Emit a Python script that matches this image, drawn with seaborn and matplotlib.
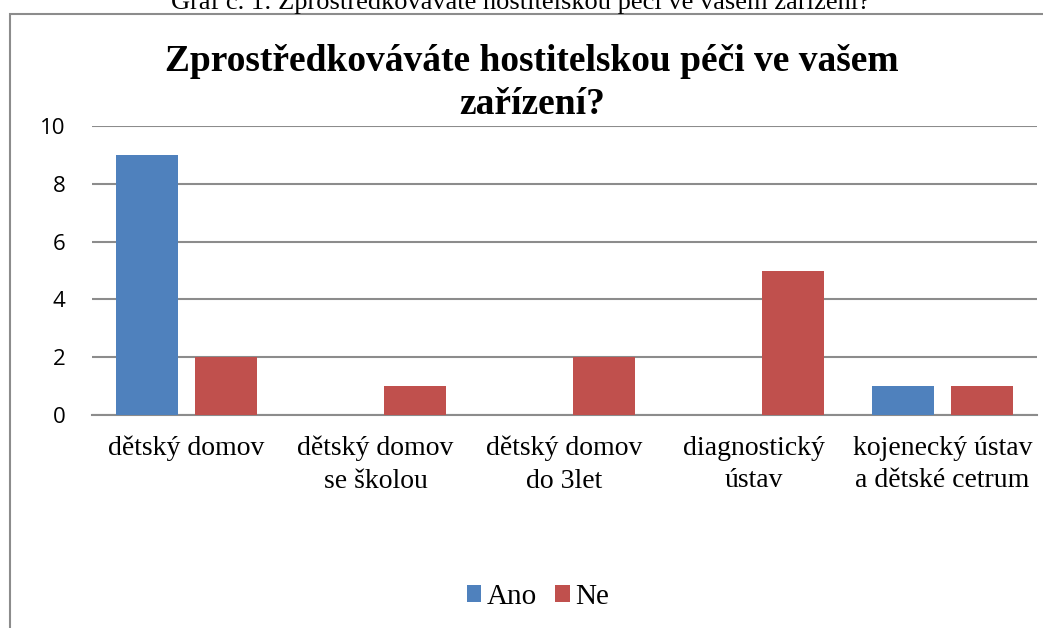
import matplotlib
matplotlib.use("Agg")
import matplotlib.pyplot as plt
import seaborn as sns
import pandas as pd
from matplotlib.patches import Rectangle, Patch

categories = ["dětský domov", "dětský domov\nse školou", "dětský domov\ndo 3let",
              "diagnostický\nústav", "kojenecký ústav\na dětské cetrum"]
ano = [9, 0, 0, 0, 1]
ne = [2, 1, 2, 5, 1]
series = ["Ano", "Ne"]
colors = ["#4F81BD", "#C0504D"]
yticks = [0, 2, 4, 6, 8, 10]

df = pd.DataFrame({
    "kategorie": categories * 2,
    "hodnota": ano + ne,
    "serie": ["Ano"] * len(categories) + ["Ne"] * len(categories),
})

sns.set_theme(style="white")
plt.rcParams["font.family"] = ["Liberation Serif", "DejaVu Serif"]
plt.rcParams["text.color"] = "black"
plt.rcParams["xtick.color"] = "black"
plt.rcParams["ytick.color"] = "black"
plt.rcParams["xtick.labelcolor"] = "black"
plt.rcParams["ytick.labelcolor"] = "black"

fig = plt.figure(figsize=(10.43, 6.28), dpi=100)
ax = fig.add_axes([92 / 1043, 1 - 415 / 628, 945 / 1043, (415 - 126) / 628])

sns.barplot(data=df, x="kategorie", y="hodnota", hue="serie", order=categories,
            hue_order=series, palette=colors, width=0.83, gap=0.21,
            saturation=1, legend=False, ax=ax, zorder=3, linewidth=0)

ax.set_ylim(0, 10)
ax.set_xlim(-0.5, 4.5)
ax.set_yticks(yticks)
ax.yaxis.grid(True, color="#8c8c8c", linewidth=1.5, zorder=0)
ax.set_axisbelow(True)
for s in ["top", "right", "left"]:
    ax.spines[s].set_visible(False)
ax.spines["bottom"].set_color("#8c8c8c")
ax.spines["bottom"].set_linewidth(1.5)
ax.set_xlabel("")
ax.set_ylabel("")
ax.tick_params(axis="y", length=0, pad=19, labelsize=16, labelcolor="black")
for lbl in ax.get_yticklabels():
    lbl.set_fontfamily(["Open Sans", "DejaVu Sans"])
ax.tick_params(axis="x", length=0, pad=15, labelsize=20, labelcolor="black")
for lbl in ax.get_xticklabels():
    lbl.set_linespacing(1.4)

fig.text(532 / 1043, 1 - 71 / 628, "Zprostředkováváte hostitelskou péči ve vašem",
         ha="center", va="baseline", fontsize=27, fontweight="bold", color="black")
fig.text(532 / 1043, 1 - 114 / 628, "zařízení?",
         ha="center", va="baseline", fontsize=27, fontweight="bold", color="black")

fig.text(520 / 1043, 1 - 9 / 628, "Graf č. 1: Zprostředkováváte hostitelskou péči ve vašem zařízení?",
         ha="center", va="baseline", fontsize=19, color="black")

fig.patches.append(Rectangle((10 / 1043, -0.05), 1.1, 1 - 14 / 628 + 0.05,
                             transform=fig.transFigure, fill=False,
                             edgecolor="#8c8c8c", linewidth=1.5))

handles = [Patch(facecolor=c, edgecolor="none") for c in colors]
leg = fig.legend(handles, series, loc="center", bbox_to_anchor=(538 / 1043, 1 - 597 / 628),
                 ncol=2, frameon=False, fontsize=21, handlelength=0.5, handleheight=0.5,
                 handletextpad=0.2, columnspacing=0.6)
for t in leg.get_texts():
    t.set_color("black")

fig.savefig("out.png", dpi=100)
